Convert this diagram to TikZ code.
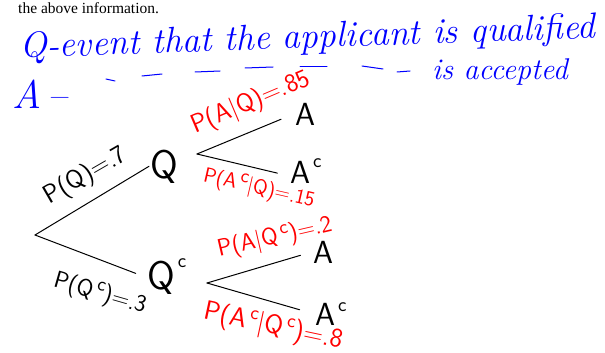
\documentclass[tikz,border=0pt]{standalone}
\usepackage{fontspec}
\newfontfamily\printfont{Liberation Serif}
\usetikzlibrary{positioning}
\newcommand{\upc}[1][12pt]{\hspace{3pt}\smash{\raisebox{#1}{\fontsize{20}{20}\selectfont c}}}
\tikzset{
  branch/.style   = {line width=1pt, line cap=round},
  event/.style    = {inner sep=1pt, anchor=base west, font=\sffamily\fontsize{40}{40}\selectfont},
  leaf/.style     = {inner sep=1pt, anchor=base west, font=\sffamily\fontsize{32}{32}\selectfont},
  prob/.style     = {inner sep=0pt, font=\sffamily\fontsize{24}{24}\selectfont},
  condprob/.style = {prob, text=red},
  note/.style     = {inner sep=0pt, text=blue, anchor=base west, font=\itshape\fontsize{36}{36}\selectfont},
  ditto/.style    = {blue, line width=1pt, line cap=round},
}

\begin{document}
\begin{tikzpicture}[x=1pt,y=-1pt]
  \useasboundingbox (0,0) rectangle (605,353);
  \node[inner sep=0pt, anchor=base west, font=\printfont\fontsize{15.5}{16}\selectfont] (info) at (18,14) {the above information.};
  % definitions
  \node[note, rotate=2] (defq) at (20,58) {Q-event that the applicant is qualified};
  \node[note, font=\itshape\fontsize{40}{40}\selectfont] (defa) at (12,108) {A\,--};
  \foreach \xa/\ya/\xb/\yb in {106/79/115/81, 142/76/162/74, 195/72/220/71, 245/68/273/67,
                               300/67/327/67, 362/66/383/69, 397/72/410/71}
    \draw[ditto] (\xa,\ya) -- (\xb,\yb);
  \node[note, font=\itshape\fontsize{30}{30}\selectfont] (acc) at (432,79) {is accepted};
  % tree
  \coordinate (root) at (35,235);
  \node[event] (Q) at (149,178) {Q};
  \node[event] (Qc) at (146,289) {Q\upc[22pt]};
  \coordinate (qs) at (197,154);
  \coordinate (qcs) at (207,283);
  \node[leaf] (A1) at (294,125) {A};
  \node[leaf] (Ac1) at (289,183) {A\upc[16pt]};
  \node[leaf] (A2) at (312,263) {A};
  \node[leaf] (Ac2) at (314,325) {A\upc[14pt]};
  \draw[branch] (root) -- (Q.west);
  \draw[branch, shorten >=11pt] (root) -- (Qc.west);
  \draw[branch, shorten >=14pt] (qs) -- (A1.west);
  \draw[branch, shorten >=12pt] (qs) -- ([yshift=-4pt]Ac1.west);
  \draw[branch, shorten >=12pt] (qcs) -- (A2.west);
  \draw[branch, shorten >=15pt] (qcs) -- (Ac2.west);
  % probabilities
  \node[prob, rotate=30, font=\sffamily\fontsize{26}{26}\selectfont] (pq) at (86,176) {P(Q)=.7};
  \node[prob, rotate=-16] (pqc) at (100,294) {P(Q\upc[9pt])=.3};
  \node[condprob, rotate=23, font=\sffamily\fontsize{26}{26}\selectfont] (paq) at (251,103) {P(A|Q)=.85};
  \node[condprob, rotate=-13, font=\sffamily\fontsize{21}{21}\selectfont] (pacq) at (259,189) {P(A\upc[8pt]|Q)=.15};
  \node[condprob, rotate=13] (paqc) at (275,238) {P(A|Q\upc[8pt])=.2};
  \node[condprob, rotate=-12, font=\sffamily\fontsize{27}{27}\selectfont] (pacqc) at (273,327) {P(A\upc[10pt]|Q\upc[10pt])=.8};
\end{tikzpicture}
\end{document}
